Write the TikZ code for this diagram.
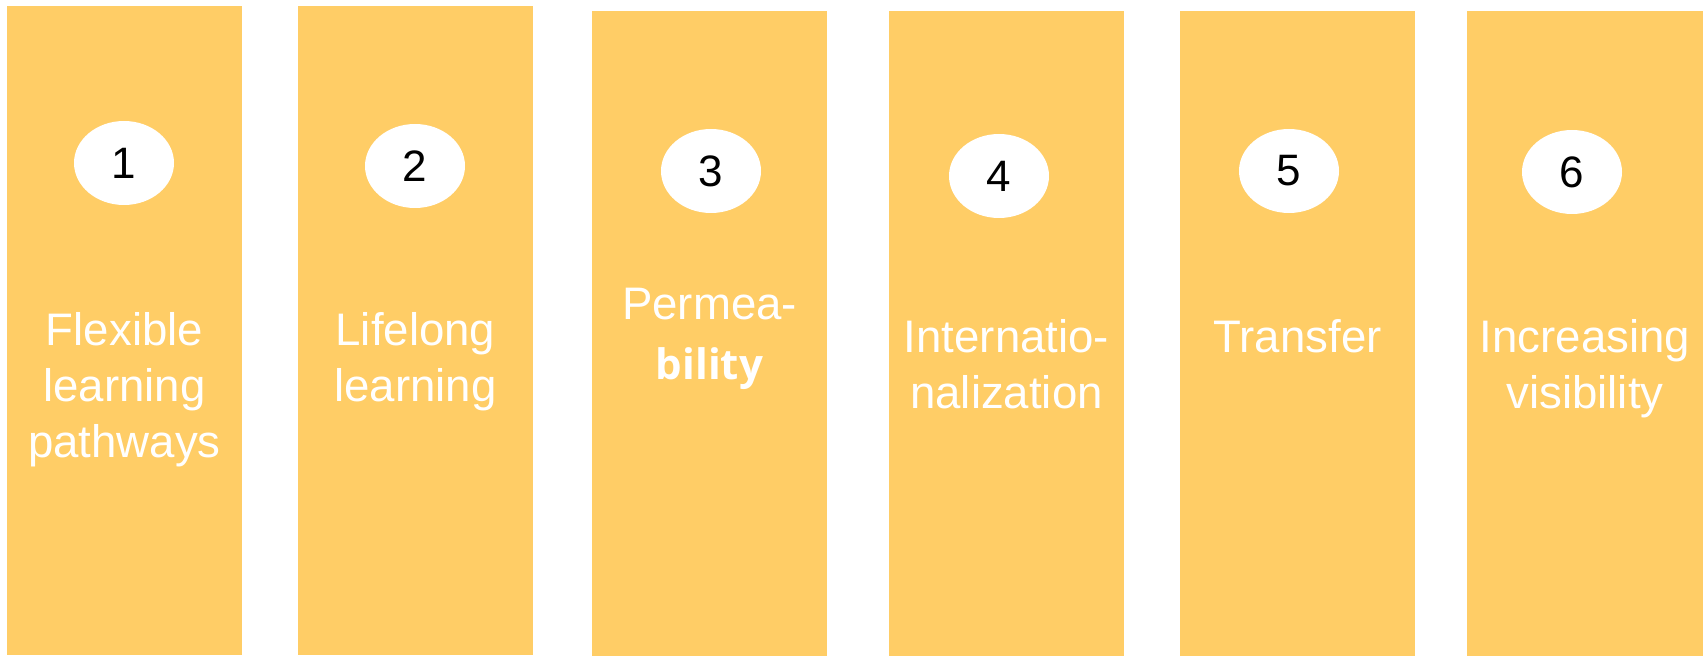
\documentclass[tikz,border=0pt]{standalone}
\usepackage{fontspec}
\setmainfont{Liberation Sans}
\newfontfamily\silbafont{Open Sans}
\usetikzlibrary{shapes.geometric}
\definecolor{colbarra}{RGB}{255,205,102}

\begin{document}
\begin{tikzpicture}[
	x=0.5pt, y=-0.5pt,
	barra/.style ={fill=colbarra},
	numero/.style ={ellipse, fill=white, minimum width=50pt, minimum height=42pt, inner sep=0pt, font=\fontsize{22}{22}\selectfont},
	titulo/.style ={text=white, align=center, anchor=base, inner sep=0pt, font=\fontsize{22.8}{28}\selectfont}]

	\useasboundingbox (0,0) rectangle (1708,656);

	% columnas
	\fill[barra] (7,6) rectangle (242,655);
	\fill[barra] (298,6) rectangle (533,655);
	\fill[barra] (592,11) rectangle (827,656);
	\fill[barra] (889,11) rectangle (1124,656);
	\fill[barra] (1180,11) rectangle (1415,656);
	\fill[barra] (1467,11) rectangle (1703,656);

	% numeros
	\node[numero] (n1) at (124,163) {1};
	\node[numero] (n2) at (415,166) {2};
	\node[numero] (n3) at (711,171) {3};
	\node[numero] (n4) at (999,176) {4};
	\node[numero] (n5) at (1289,171) {5};
	\node[numero] (n6) at (1572,172) {6};

	% textos (base = ultima linea)
	\node[titulo] (t1) at (124.5,458) {Flexible\\learning\\pathways};
	\node[titulo] (t2) at (415.5,402) {Lifelong\\learning};
	\node[titulo] (t3) at (709.5,380) {Permea-\\[2pt]{\silbafont\bfseries\fontsize{21}{28}\selectfont bility}};
	\node[titulo] (t4) at (1006.5,409) {Internatio-\\nalization};
	\node[titulo] (t5) at (1297.5,353) {Transfer};
	\node[titulo] (t6) at (1585,409) {Increasing\\visibility};

\end{tikzpicture}
\end{document}
